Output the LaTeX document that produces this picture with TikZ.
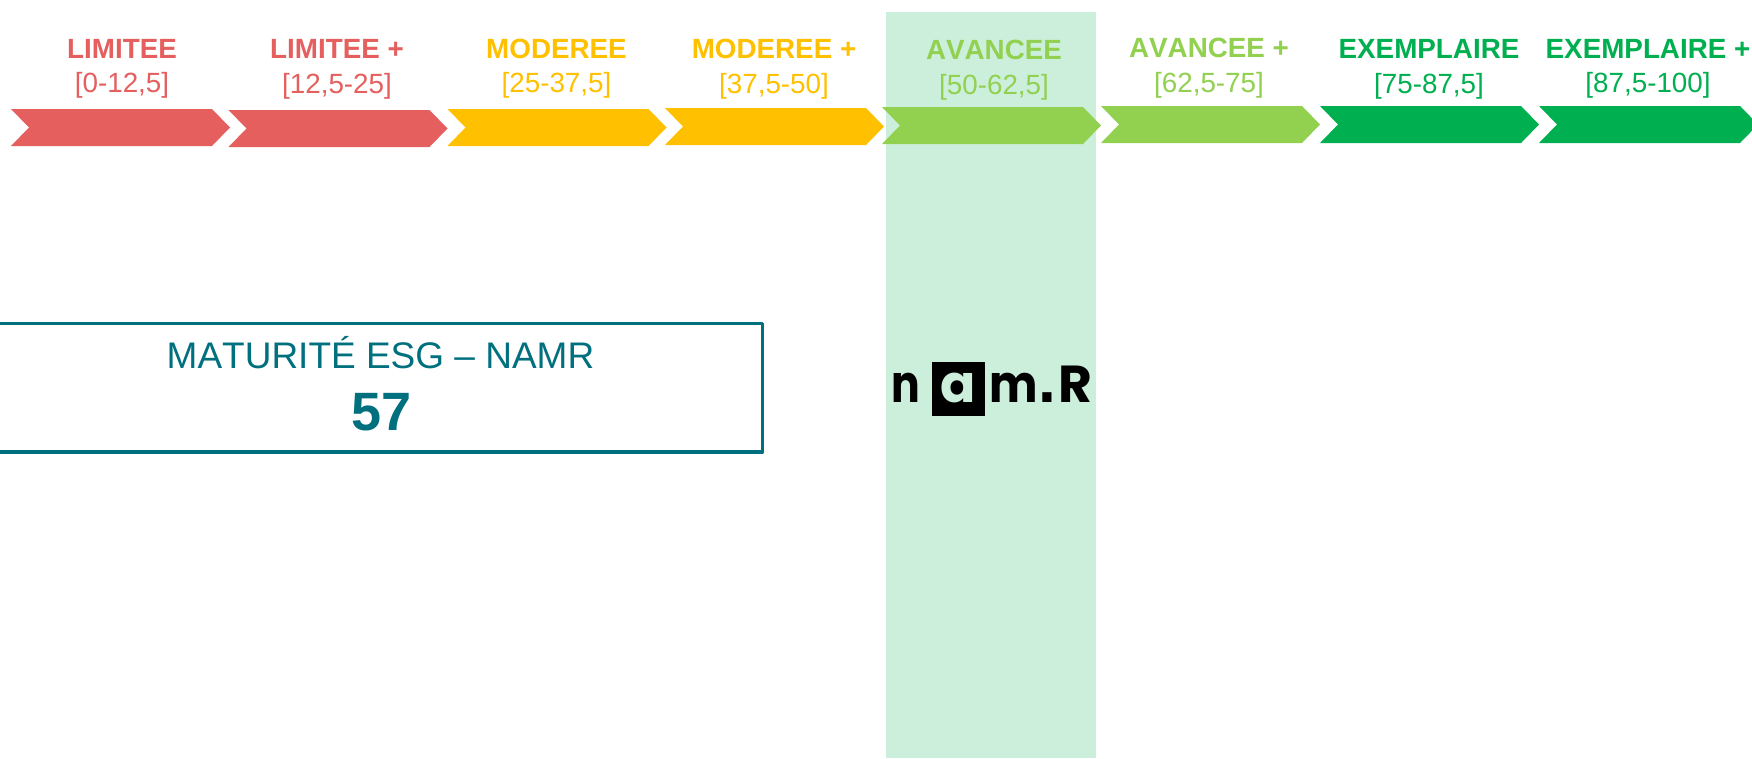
\documentclass[tikz,border=0pt]{standalone}
\usepackage{fontspec}
\setmainfont[Kerning=Off]{Liberation Sans}
\newfontfamily\logofont{Poppins}
\newfontfamily\dotfont{DejaVu Sans}
\definecolor{cred}{HTML}{E55F5F}
\definecolor{cyel}{HTML}{FFC000}
\definecolor{clim}{HTML}{92D050}
\definecolor{cgrn}{HTML}{00B050}
\definecolor{cband}{HTML}{CCEFDC}
\definecolor{cteal}{HTML}{00707F}
\tikzset{
  headtxt/.style={anchor=base,inner sep=0pt,font=\fontsize{27.8}{28}\selectfont\bfseries},
  rangetxt/.style={anchor=base,inner sep=0pt,font=\fontsize{27.8}{28}\selectfont},
  logotxt/.style={anchor=base,inner sep=0pt,font=\logofont\bfseries\fontsize{52}{52}\selectfont}
}
% \chev{colour}{left x}{top y}
\newcommand{\chev}[3]{\fill[#1] (#2,#3) -- ++(201,0) -- ++(18,18.5) -- ++(-18,18.5) -- ++(-201,0) -- ++(18,-18.5) -- cycle;}
\begin{document}
\begin{tikzpicture}[x=1pt,y=-1pt]
\useasboundingbox (0,0) rectangle (1752,758);
\fill[white] (0,0) rectangle (1752,758);
\fill[cband] (886,12) rectangle (1096,758);
\chev{cred}{11}{109}
\chev{cred}{228.5}{110}
\chev{cyel}{447.5}{109}
\chev{cyel}{665}{108}
\chev{clim}{882}{107}
\chev{clim}{1101}{106}
\chev{cgrn}{1320}{106}
\chev{cgrn}{1539}{106}
\node[headtxt,text=cred] (h1) at (122,58) {LIMITEE};
\node[headtxt,text=cred] (h2) at (337,58) {LIMITEE +};
\node[headtxt,text=cyel] (h3) at (556.5,58) {MODEREE};
\node[headtxt,text=cyel] (h4) at (774,58) {MODEREE +};
\node[headtxt,text=clim] (h5) at (994,59.5) {AVANCEE};
\node[headtxt,text=clim] (h6) at (1209,57) {AVANCEE +};
\node[headtxt,text=cgrn] (h7) at (1429,58) {EXEMPLAIRE};
\node[headtxt,text=cgrn] (h8) at (1648,58) {EXEMPLAIRE +};
\node[rangetxt,text=cred] (r1) at (122,92) {[0-12,5]};
\node[rangetxt,text=cred] (r2) at (337,93) {[12,5-25]};
\node[rangetxt,text=cyel] (r3) at (556.5,92) {[25-37,5]};
\node[rangetxt,text=cyel] (r4) at (774,93) {[37,5-50]};
\node[rangetxt,text=clim] (r5) at (994,94) {[50-62,5]};
\node[rangetxt,text=clim] (r6) at (1209,92) {[62,5-75]};
\node[rangetxt,text=cgrn] (r7) at (1429,93) {[75-87,5]};
\node[rangetxt,text=cgrn] (r8) at (1648,92) {[87,5-100]};
\draw[cteal,line width=3.5pt,line join=round] (-3,323.5) rectangle (762.5,452);
\node[anchor=base,inner sep=0pt,text=cteal,font=\fontsize{37}{37}\selectfont] (t) at (380.5,368) {MATURITÉ ESG – NAMR};
\node[anchor=base,inner sep=0pt,text=cteal,font=\fontsize{54}{54}\selectfont\bfseries] (v) at (381.5,430) {57};
\fill[black] (932,362) rectangle (985,416);
\node[logotxt] (ln) at (905.5,402) {\scalebox{.82}[1]{n}};
\node[logotxt,text=cband] (la) at (958,402) {a};
\node[logotxt] (lm) at (1013.5,402) {\scalebox{.88}[1]{m}};
\node[logotxt,font=\dotfont\bfseries\fontsize{52}{52}\selectfont] (ld) at (1047,402) {.};
\node[logotxt] (lr) at (1075,402) {R};
\end{tikzpicture}
\end{document}
